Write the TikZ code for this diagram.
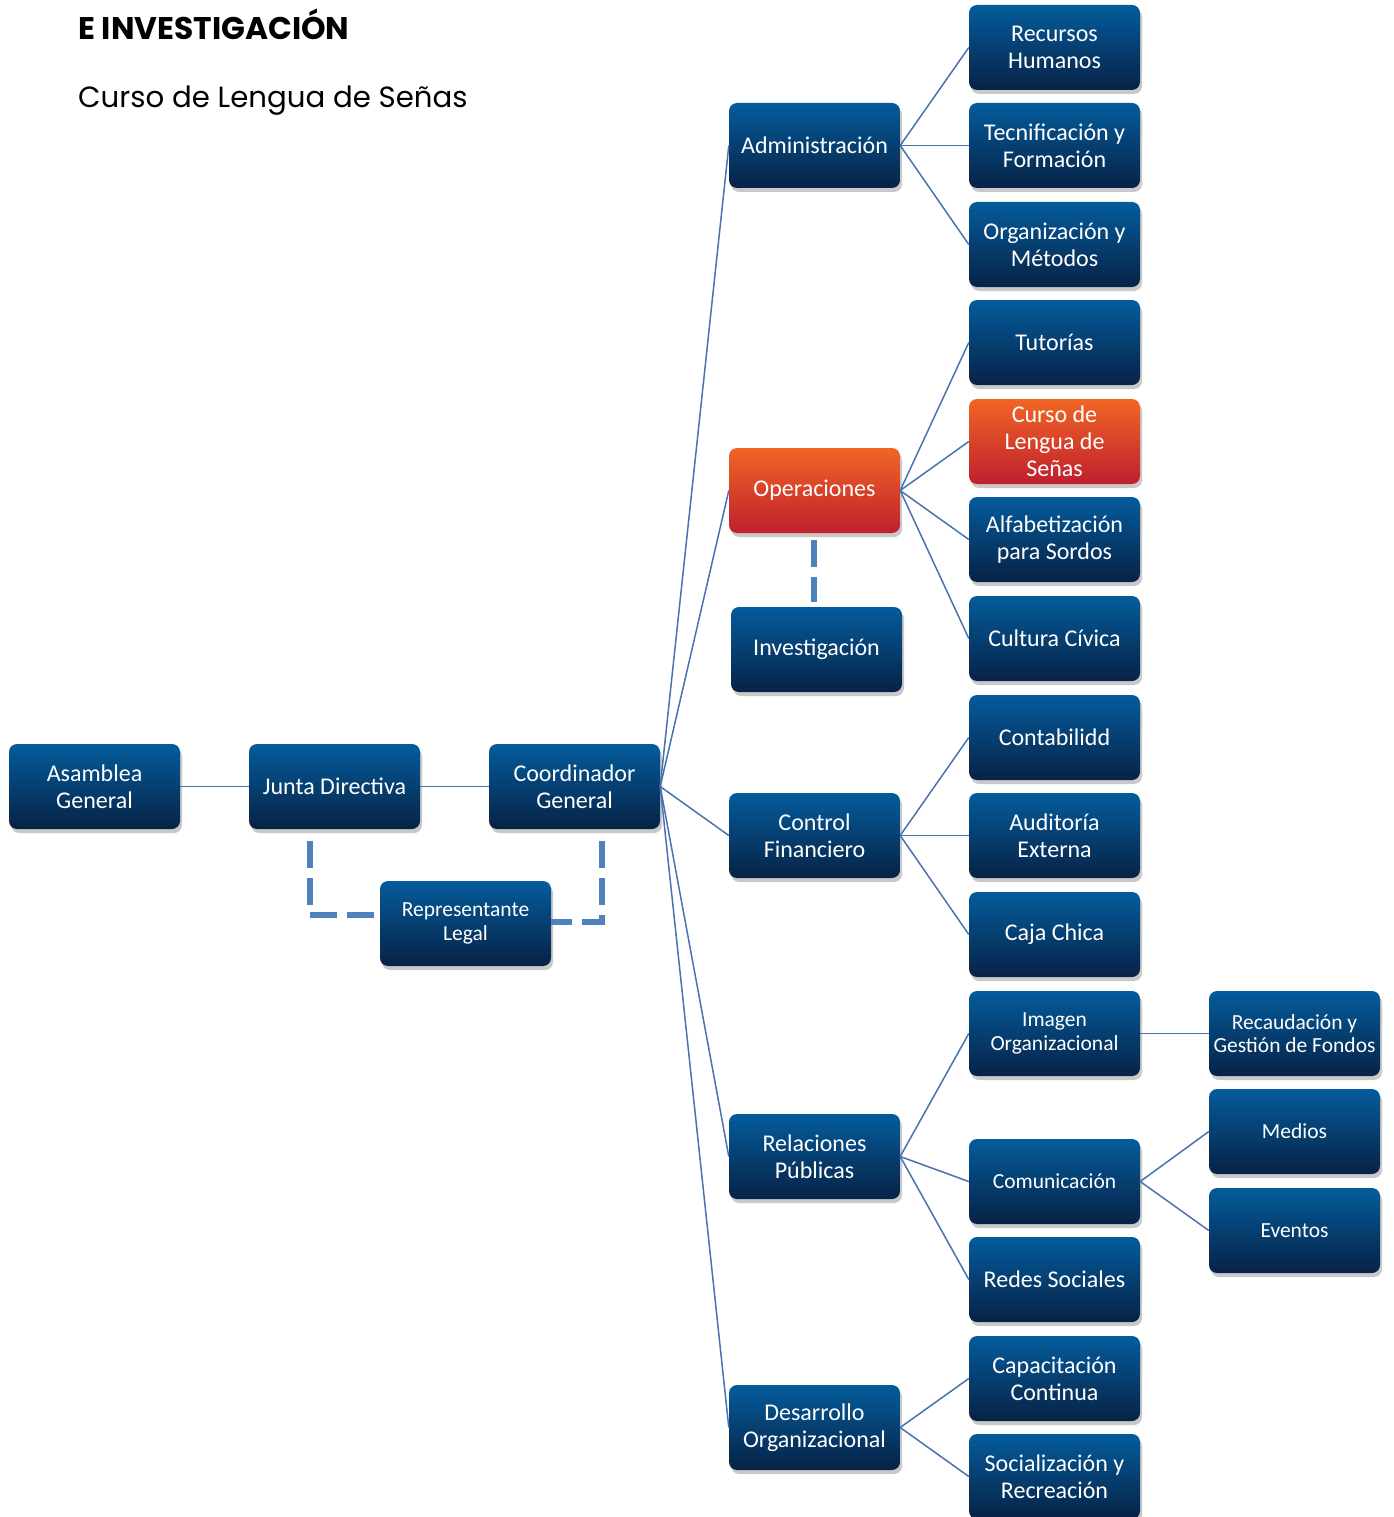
\documentclass[tikz,border=0pt]{standalone}
\usepackage{fontspec}
\setmainfont{Carlito}
\newfontfamily\titlefont{Poppins}
\usetikzlibrary{shadows}
\definecolor{boxtop}{RGB}{4,92,156}
\definecolor{boxbot}{RGB}{7,34,70}
\definecolor{ortop}{RGB}{240,102,36}
\definecolor{orbot}{RGB}{192,30,46}
\definecolor{linec}{RGB}{74,114,176}
\definecolor{dashc}{RGB}{79,129,189}
\begin{document}
\begin{tikzpicture}[x=1pt,y=-1pt,
  bx/.style={rectangle, rounded corners=8pt, minimum width=171pt, minimum height=85pt,
    top color=boxtop, bottom color=boxbot, text=white, align=center, inner sep=2pt,
    font=\fontsize{24}{27}\selectfont,
    drop shadow={opacity=0.3, shadow xshift=2pt, shadow yshift=-4pt, fill=black!70}},
  sm/.style={font=\fontsize{21.5}{23.5}\selectfont},
  hl/.style={top color=ortop, bottom color=orbot},
  conn/.style={draw=linec, line width=1.5pt},
  dconn/.style={draw=dashc, line width=6.5pt, dash pattern=on 27pt off 10pt}]
\useasboundingbox (0,0) rectangle (1393,1517);
% title
\node[anchor=base west, inner sep=0, font=\titlefont\bfseries\fontsize{31.3}{36}\selectfont] (t1) at (78,40) {E INVESTIGACIÓN};
\node[anchor=base west, inner sep=0, font=\titlefont\fontsize{29.2}{34}\selectfont] (t2) at (78,108) {Curso de Lengua de Señas};
% left chain
\node[bx] (asam) at (94.5,786.5) {Asamblea\\General};
\node[bx] (junta) at (334.5,786.5) {Junta Directiva};
\node[bx] (coord) at (574.5,786.5) {Coordinador\\General};
\node[bx,sm] (rep) at (465.5,923.5) {Representante\\Legal};
% middle column
\node[bx] (admin) at (814.5,145.5) {Administración};
\node[bx,hl] (oper) at (814.5,490.5) {Operaciones};
\node[bx] (inv) at (816.5,649.5) {Investigación};
\node[bx] (ctrl) at (814.5,835.5) {Control\\Financiero};
\node[bx] (rel) at (814.5,1156.5) {Relaciones\\Públicas};
\node[bx] (des) at (814.5,1427.5) {Desarrollo\\Organizacional};
% right column
\node[bx] (rh) at (1054.5,47.5) {Recursos\\Humanos};
\node[bx] (tec) at (1054.5,145.5) {Tecnificación y\\Formación};
\node[bx] (org) at (1054.5,244.5) {Organización y\\Métodos};
\node[bx] (tut) at (1054.5,342.5) {Tutorías};
\node[bx,hl] (curso) at (1054.5,441.5) {Curso de\\Lengua de\\Señas};
\node[bx] (alf) at (1054.5,539.5) {Alfabetización\\para Sordos};
\node[bx] (cult) at (1054.5,638.5) {Cultura Cívica};
\node[bx] (cont) at (1054.5,737.5) {Contabilidd};
\node[bx] (aud) at (1054.5,835.5) {Auditoría\\Externa};
\node[bx] (caja) at (1054.5,934.5) {Caja Chica};
\node[bx,sm] (img) at (1054.5,1033.5) {Imagen\\Organizacional};
\node[bx,sm] (com) at (1054.5,1181.5) {Comunicación};
\node[bx] (redes) at (1054.5,1279.5) {Redes Sociales};
\node[bx] (cap) at (1054.5,1378.5) {Capacitación\\Continua};
\node[bx] (soc) at (1054.5,1476.5) {Socialización y\\Recreación};
% far right
\node[bx,sm] (rec) at (1294.5,1033.5) {Recaudación y\\Gestión de Fondos};
\node[bx,sm] (med) at (1294.5,1131.5) {Medios};
\node[bx,sm] (evt) at (1294.5,1230.5) {Eventos};
% connectors
\draw[conn] (asam.east) -- (junta.west);
\draw[conn] (junta.east) -- (coord.west);
\foreach \n in {admin,oper,ctrl,rel,des}{\draw[conn] (coord.east) -- (\n.west);}
\foreach \n in {rh,tec,org}{\draw[conn] (admin.east) -- (\n.west);}
\foreach \n in {tut,curso,alf,cult}{\draw[conn] (oper.east) -- (\n.west);}
\foreach \n in {cont,aud,caja}{\draw[conn] (ctrl.east) -- (\n.west);}
\foreach \n in {img,com,redes}{\draw[conn] (rel.east) -- (\n.west);}
\foreach \n in {cap,soc}{\draw[conn] (des.east) -- (\n.west);}
\draw[conn] (img.east) -- (rec.west);
\foreach \n in {med,evt}{\draw[conn] (com.east) -- (\n.west);}
% dashed
\coordinate (jd) at (310,841);
\coordinate (jc) at (310,915);
\coordinate (cd) at (602,841);
\coordinate (cc) at (602,922);
\coordinate (od) at (814,540);
\coordinate (oi) at (814,602);
\draw[dconn] (od) -- (oi);
\draw[dconn] (jd) -- (jc) -- (rep.west |- jc);
\draw[dconn] (cd) -- (cc) -- (rep.east |- cc);
\end{tikzpicture}
\end{document}
